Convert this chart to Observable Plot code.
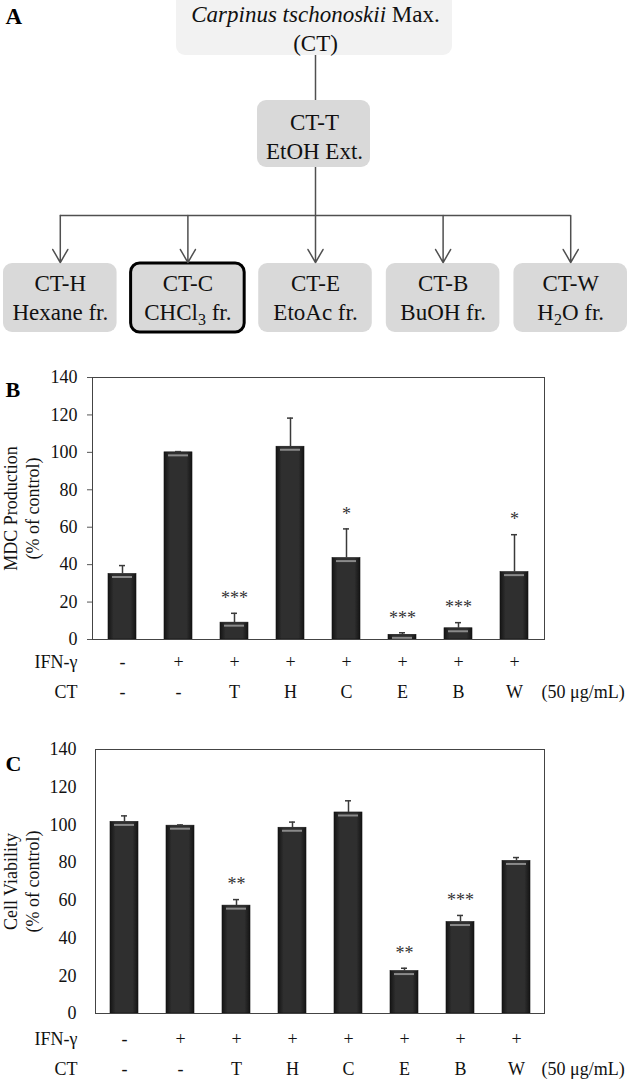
<!DOCTYPE html>
<html>
<head>
<meta charset="utf-8">
<script src="https://cdn.jsdelivr.net/npm/d3@7"></script>
<script src="https://cdn.jsdelivr.net/npm/@observablehq/plot@0.6"></script>
<style>
  body { margin: 0; background: #fff; }
  #fig { position: relative; width: 630px; height: 1086px; overflow: hidden; background: #fff; }
  #fig > div { position: absolute; left: 0; }
  #fig svg, #fig svg text { font-family: "Liberation Serif", "Times New Roman", serif !important; }
  #pb g[aria-label="y-axis tick label"], #pc g[aria-label="y-axis tick label"] { font-size: 18px !important; }
</style>
</head>
<body>
<svg width="0" height="0" style="position:absolute">
  <defs>
    <linearGradient id="barGrad" x1="0" x2="1" y1="0" y2="0">
      <stop offset="0" stop-color="#141414"/>
      <stop offset="0.2" stop-color="#2f2f2f"/>
      <stop offset="0.8" stop-color="#2f2f2f"/>
      <stop offset="1" stop-color="#141414"/>
    </linearGradient>
  </defs>
</svg>
<div id="fig">
  <div id="pa" style="top:0px"></div>
  <div id="pb" style="top:350px"></div>
  <div id="pc" style="top:720px"></div>
</div>
<script>
// ---------- data ----------
const groups   = ["ctrl", "IFN", "T", "H", "C", "E", "B", "W"];
const ifnRow   = ["-", "+", "+", "+", "+", "+", "+", "+"];
const ctRow    = ["-", "-", "T", "H", "C", "E", "B", "W"];
const doseNote = "(50 μg/mL)";
const yTicks   = [0, 20, 40, 60, 80, 100, 120, 140];

const mdcMean = [35, 100, 9, 103, 43.5, 2.5, 6, 36];
const mdcSD   = [4.5, 0.4, 5, 15.3, 15.6, 1.1, 3, 20];
const mdcSig  = ["", "", "***", "", "*", "***", "***", "*"];

const viaMean = [101.6, 99.6, 57.2, 98.5, 106.6, 22.5, 48.5, 80.9];
const viaSD   = [3.2, 0.4, 3.2, 3, 6.2, 1.5, 3.5, 1.8];
const viaSig  = ["", "", "**", "", "", "**", "***", ""];

const rootLines     = ["Carpinus tschonoskii Max.", "(CT)"];
const extractLines  = ["CT-T", "EtOH Ext."];
const fractionCodes = ["CT-H", "CT-C", "CT-E", "CT-B", "CT-W"];
const fractionNames = ["Hexane fr.", "CHCl3 fr.", "EtoAc fr.", "BuOH fr.", "H2O fr."];
const highlighted   = "CT-C";

const FONT = "Liberation Serif";

// ---------- panel A: fractionation scheme ----------
{
  const W = 630, H = 340, cx = 315;
  const band = d3.scaleBand().domain(fractionCodes).range([3, 627]).paddingInner(0.11);
  const bw = band.bandwidth();
  const fc = c => band(c) + bw / 2;
  const boxes = [
    {id: "root", x1: cx - 139, x2: cx + 137, y1: -12, y2: 55, fill: "#f2f2f2", a: rootLines[0], b: rootLines[1], ta: 14, tb: 43, cx: cx},
    {id: "ext", x1: cx - 58, x2: cx + 55, y1: 100, y2: 167, fill: "#d9d9d9", a: extractLines[0], b: extractLines[1], ta: 122, tb: 151, cx: cx - 1}
  ].concat(fractionCodes.map((c, i) => ({
    id: c, x1: band(c), x2: band(c) + bw, y1: 263, y2: 332, fill: "#d9d9d9",
    a: c, b: fractionNames[i], ta: 283, tb: 312, cx: fc(c)
  })));
  const lineY = 215;
  const conn = {stroke: "#505050", strokeWidth: 1.5};
  const pa = Plot.plot({
    width: W, height: H, margin: 0,
    style: {fontFamily: FONT, fontSize: "23px", background: "transparent", color: "#111"},
    x: {domain: [0, W], range: [0, W], axis: null},
    y: {domain: [0, H], range: [0, H], axis: null},
    marks: [
      Plot.rect(boxes, {x1: "x1", x2: "x2", y1: "y1", y2: "y2", fill: "fill",
        stroke: d => d.id === highlighted ? "#000" : "none", strokeWidth: 3}),
      Plot.ruleX([cx], {y1: 55, y2: 100, ...conn}),
      Plot.ruleX([cx], {y1: 167, y2: lineY, ...conn}),
      Plot.ruleY([lineY], {x1: fc(fractionCodes[0]), x2: fc(fractionCodes[4]), ...conn}),
      Plot.arrow(fractionCodes, {x1: fc, x2: fc, y1: lineY, y2: 262, headLength: 15, headAngle: 60, ...conn}),
      Plot.text(boxes, {x: "cx", y: "ta", text: "a", fontSize: 23, fontFamily: FONT, fill: "#111"}),
      Plot.text(boxes, {x: "cx", y: "tb", text: "b", fontSize: 23, fontFamily: FONT, fill: "#111"}),
      Plot.text(["A"], {x: 5, y: 16, textAnchor: "start", fontWeight: "bold", fontSize: 23, fontFamily: FONT, fill: "#000"})
    ]
  });
  d3.select(pa).selectAll("rect").attr("rx", 9).attr("ry", 9);
  d3.select(pa).selectAll("text").each(function () {
    const t = this.textContent;
    const s = d3.select(this);
    if (t === rootLines[0]) {
      this.textContent = "";
      s.append("tspan").attr("font-style", "italic").text("Carpinus tschonoskii");
      s.append("tspan").text(" Max.");
    } else if (t === "CHCl3 fr." || t === "H2O fr.") {
      const parts = t === "CHCl3 fr." ? ["CHCl", "3", " fr."] : ["H", "2", "O fr."];
      this.textContent = "";
      s.append("tspan").text(parts[0]);
      s.append("tspan").attr("dy", 5).attr("font-size", 16).text(parts[1]);
      s.append("tspan").attr("dy", -5).text(parts[2]);
    }
  });
  document.getElementById("pa").appendChild(pa);
}

// ---------- panels B and C: bar charts ----------
function barPanel(el, mean, sd, sig, ylab, cfg) {
  const data = groups.map((g, i) => ({g, mean: mean[i], top: mean[i] + sd[i], sig: sig[i], ifn: ifnRow[i], ct: ctRow[i]}));
  const dark = "#3a3a3a";
  const T = {fontSize: 18, fontFamily: FONT, fill: "#111"};
  const p = Plot.plot({
    width: 630, height: cfg.height,
    marginTop: cfg.mt, marginBottom: cfg.mb, marginLeft: cfg.ml, marginRight: 86,
    style: {fontFamily: FONT, fontSize: "18px", background: "transparent", color: "#111", overflow: "visible"},
    x: {domain: groups, paddingInner: 0.5, paddingOuter: 0.25, axis: null},
    y: {domain: [0, 140]},
    marks: [
      Plot.axisY({ticks: yTicks, tickSize: cfg.tickSize, tickPadding: cfg.tickPad, label: null, fontSize: 18, fontFamily: FONT, stroke: "#555", fill: "#111"}),
      Plot.barY(data, {x: "g", y: "mean", fill: "url(#barGrad)", stroke: "#111", strokeWidth: 0.6}),
      Plot.tickY(data, {x: "g", y: "mean", dy: 3, insetLeft: 4, insetRight: 4, stroke: "#8a8a8a", strokeWidth: 2}),
      Plot.ruleX(data, {x: "g", y1: "mean", y2: "top", stroke: dark, strokeWidth: 1.5}),
      Plot.tickY(data, {x: "g", y: "top", insetLeft: 11, insetRight: 11, stroke: dark, strokeWidth: 1.5}),
      Plot.frame({stroke: "#444", strokeWidth: 1}),
      Plot.text(data, {x: "g", y: "top", text: "sig", dy: -15, ...T, fill: "#333"}),
      Plot.text(data, {x: "g", text: "ifn", frameAnchor: "bottom", dy: cfg.r1, ...T}),
      Plot.text(data, {x: "g", text: "ct", frameAnchor: "bottom", dy: cfg.r2, ...T}),
      Plot.text(["IFN-γ"], {frameAnchor: "bottom-left", textAnchor: "end", dx: 77 - cfg.ml, dy: cfg.r1, ...T}),
      Plot.text(["CT"], {frameAnchor: "bottom-left", textAnchor: "end", dx: 77 - cfg.ml, dy: cfg.r2, ...T}),
      Plot.text([doseNote], {frameAnchor: "bottom-right", textAnchor: "start", dx: -3, dy: cfg.r2, ...T}),
      Plot.text([ylab[0]], {frameAnchor: "left", textAnchor: "middle", dx: 11 - cfg.ml, rotate: -90, ...T}),
      Plot.text([ylab[1]], {frameAnchor: "left", textAnchor: "middle", dx: 33 - cfg.ml, rotate: -90, ...T}),
      Plot.text([cfg.letter], {frameAnchor: "top-left", textAnchor: "start", dx: 5 - cfg.ml, dy: cfg.ld, ...T, fontWeight: "bold", fontSize: 22, fill: "#000"})
    ]
  });
  document.getElementById(el).appendChild(p);
}

barPanel("pb", mdcMean, mdcSD, mdcSig, ["MDC Production", "(% of control)"],
  {height: 360, mt: 27, mb: 71, ml: 92, tickSize: 5, tickPad: 10, r1: 28, r2: 58, letter: "B", ld: 4});
barPanel("pc", viaMean, viaSD, viaSig, ["Cell Viability", "(% of control)"],
  {height: 366, mt: 29, mb: 73, ml: 95, tickSize: 0, tickPad: 19, r1: 31, r2: 61, letter: "C", ld: 6});
</script>
</body>
</html>
